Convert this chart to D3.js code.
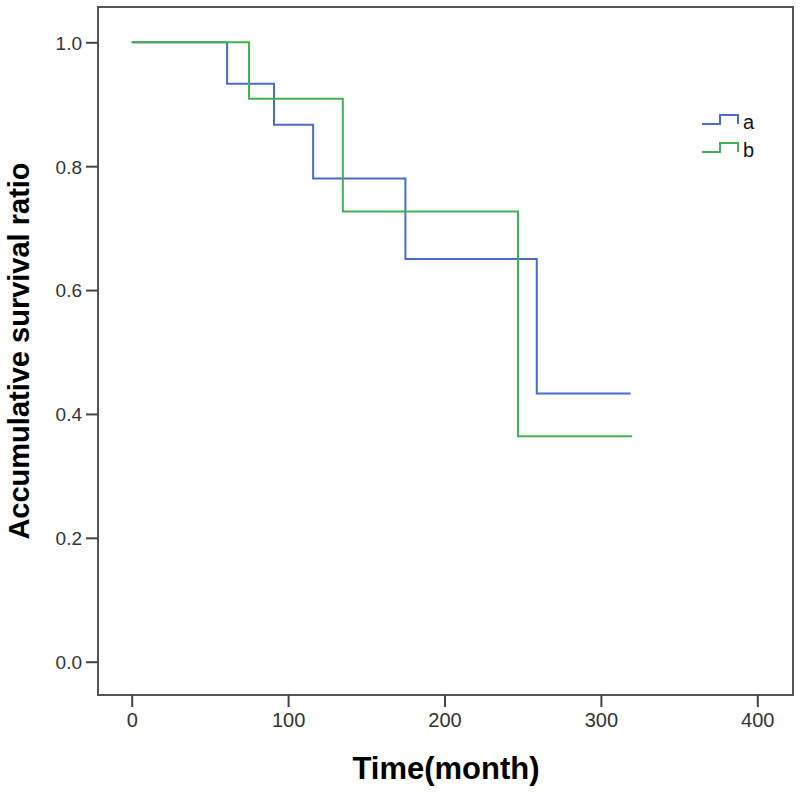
<!DOCTYPE html>
<html>
<head>
<meta charset="utf-8">
<script src="https://cdn.jsdelivr.net/npm/d3@7"></script>
<style>
  html, body { margin: 0; padding: 0; background: #ffffff; }
  svg { display: block; }
</style>
</head>
<body>
<svg id="chart" width="800" height="792"></svg>
<script>
// ---- data ----
const seriesNames = ["a", "b"];
const timeA = [0, 61, 91, 116, 175, 259, 319];
const survA = [1.0, 0.933, 0.867, 0.780, 0.650, 0.433, 0.433];
const timeB = [0, 75, 135, 247, 320];
const survB = [1.0, 0.909, 0.727, 0.364, 0.364];
const xTicks = [0, 100, 200, 300, 400];
const yTicks = [0.0, 0.2, 0.4, 0.6, 0.8, 1.0];
const xTitle = "Time(month)";
const yTitle = "Accumulative survival ratio";

// ---- styles ----
const colors = { a: "#4a6cc6", b: "#44b056" };
const frame = { left: 98, top: 7, right: 793, bottom: 695 };

const svg = d3.select("#chart");
const font = "'Liberation Sans', Arial, sans-serif";

const x = d3.scaleLinear().domain([0, 400]).range([131.7, 757.3]);
const y = d3.scaleLinear().domain([0, 1]).range([661.7, 42.3]);

// frame
svg.append("rect")
  .attr("x", frame.left).attr("y", frame.top)
  .attr("width", frame.right - frame.left)
  .attr("height", frame.bottom - frame.top)
  .attr("fill", "#ffffff")
  .attr("stroke", "#555555").attr("stroke-width", 2);

// axes
const yAxis = d3.axisLeft(y).tickValues(yTicks).tickFormat(d3.format(".1f"))
  .tickSize(12).tickPadding(4);
const gy = svg.append("g").attr("transform", `translate(${frame.left},0)`).call(yAxis);
gy.select(".domain").remove();
gy.selectAll(".tick line").attr("stroke", "#444").attr("stroke-width", 2);
gy.selectAll(".tick text").attr("font-family", font).attr("font-size", 19)
  .attr("fill", "#333").attr("dy", "0.36em");

const xAxis = d3.axisBottom(x).tickValues(xTicks).tickFormat(d3.format("d"))
  .tickSize(12).tickPadding(6);
const gx = svg.append("g").attr("transform", `translate(0,${frame.bottom})`).call(xAxis);
gx.select(".domain").remove();
gx.selectAll(".tick line").attr("stroke", "#444").attr("stroke-width", 2);
gx.selectAll(".tick text").attr("font-family", font).attr("font-size", 20)
  .attr("fill", "#333");

// titles
svg.append("text")
  .attr("x", 446).attr("y", 779)
  .attr("text-anchor", "middle")
  .attr("font-family", font).attr("font-weight", "bold").attr("font-size", 31)
  .attr("fill", "#000")
  .text(xTitle);

svg.append("text")
  .attr("transform", "translate(29,351) rotate(-90)")
  .attr("text-anchor", "middle")
  .attr("font-family", font).attr("font-weight", "bold").attr("font-size", 29)
  .attr("fill", "#000")
  .text(yTitle);

// survival curves
const line = d3.line().x(d => x(d[0])).y(d => y(d[1])).curve(d3.curveStepAfter);
const seriesData = [
  { name: "a", pts: timeA.map((t, i) => [t, survA[i]]) },
  { name: "b", pts: timeB.map((t, i) => [t, survB[i]]) }
];
svg.append("g").selectAll("path").data(seriesData).join("path")
  .attr("d", d => line(d.pts))
  .attr("fill", "none")
  .attr("stroke", d => colors[d.name])
  .attr("stroke-width", 2);

// legend
const legend = svg.append("g");
seriesNames.forEach((name, i) => {
  const ly = 124 + i * 28;
  const g = legend.append("g").attr("transform", `translate(702,${ly})`);
  g.append("path")
    .attr("d", "M0,0 H18 V-9 H36 V0")
    .attr("fill", "none").attr("stroke", colors[name]).attr("stroke-width", 2);
  g.append("text")
    .attr("x", 41).attr("y", 5)
    .attr("font-family", font).attr("font-size", 20).attr("fill", "#111")
    .text(name);
});
</script>
</body>
</html>
